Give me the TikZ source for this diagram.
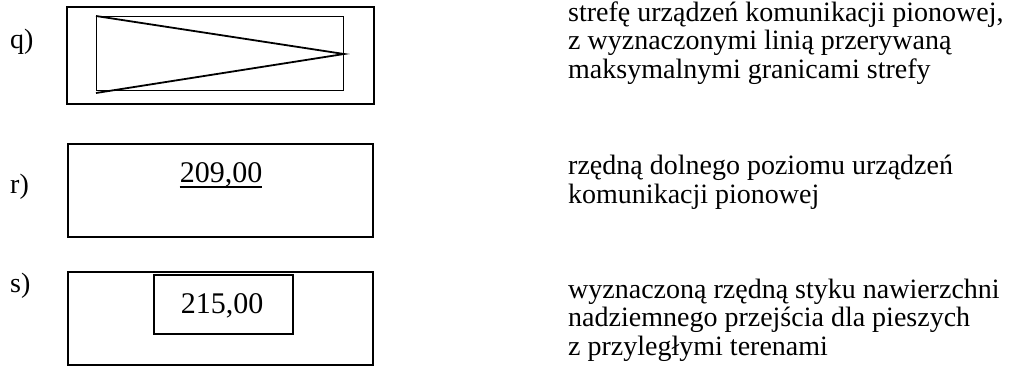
\documentclass[tikz,border=0pt]{standalone}
\usepackage{fontspec}
\setmainfont{Liberation Serif}
\usetikzlibrary{calc}
\begin{document}
\begin{tikzpicture}[x=1pt,y=-1pt,
  outerbox/.style={draw=black,line width=2.4pt},
  innerbox/.style={draw=black,line width=1.7pt},
  thinbox/.style={draw=black,line width=1pt},
  wedge/.style={draw=black,line width=1.8pt,line join=miter},
  uline/.style={draw=black,line width=1.5pt},
  lbl/.style={inner sep=0pt,anchor=base west,font=\fontsize{28}{28}\selectfont},
  desc/.style={inner sep=0pt,anchor=base west,align=left,font=\fontsize{28}{28.5}\selectfont},
  num/.style={inner sep=0pt,anchor=base,font=\fontsize{30}{30}\selectfont}]
\useasboundingbox (0,0) rectangle (1016,370);
% q
\node[lbl] (lq) at (10,48) {q)};
\draw[outerbox] (67,7) rectangle (374,104);
\draw[thinbox] (96,16) rectangle (343,90);
\draw[wedge] (96,16) -- (344,54) -- (96,93);
\node[desc] (tq) at (568,78) {strefę urządzeń komunikacji pionowej,\\z wyznaczonymi linią przerywaną\\maksymalnymi granicami strefy};
% r
\node[lbl] (lr) at (10,193) {r)};
\draw[outerbox] (68,144) rectangle (373,237);
\node[num] (nr) at (221,182) {209,00};
\draw[uline] ($(nr.base west)+(0,5)$) -- ($(nr.base east)+(0,5)$);
\node[desc] (tr) at (568,203) {rzędną dolnego poziomu urządzeń\\komunikacji pionowej};
% s
\node[lbl] (ls) at (10,292) {s)};
\draw[outerbox] (68,272) rectangle (373,365);
\draw[innerbox] (154,275) rectangle (293,334);
\node[num] (ns) at (222,313) {215,00};
\node[desc] (ts) at (568,355) {wyznaczoną rzędną styku nawierzchni\\nadziemnego przejścia dla pieszych\\z przyległymi terenami};
\end{tikzpicture}
\end{document}
